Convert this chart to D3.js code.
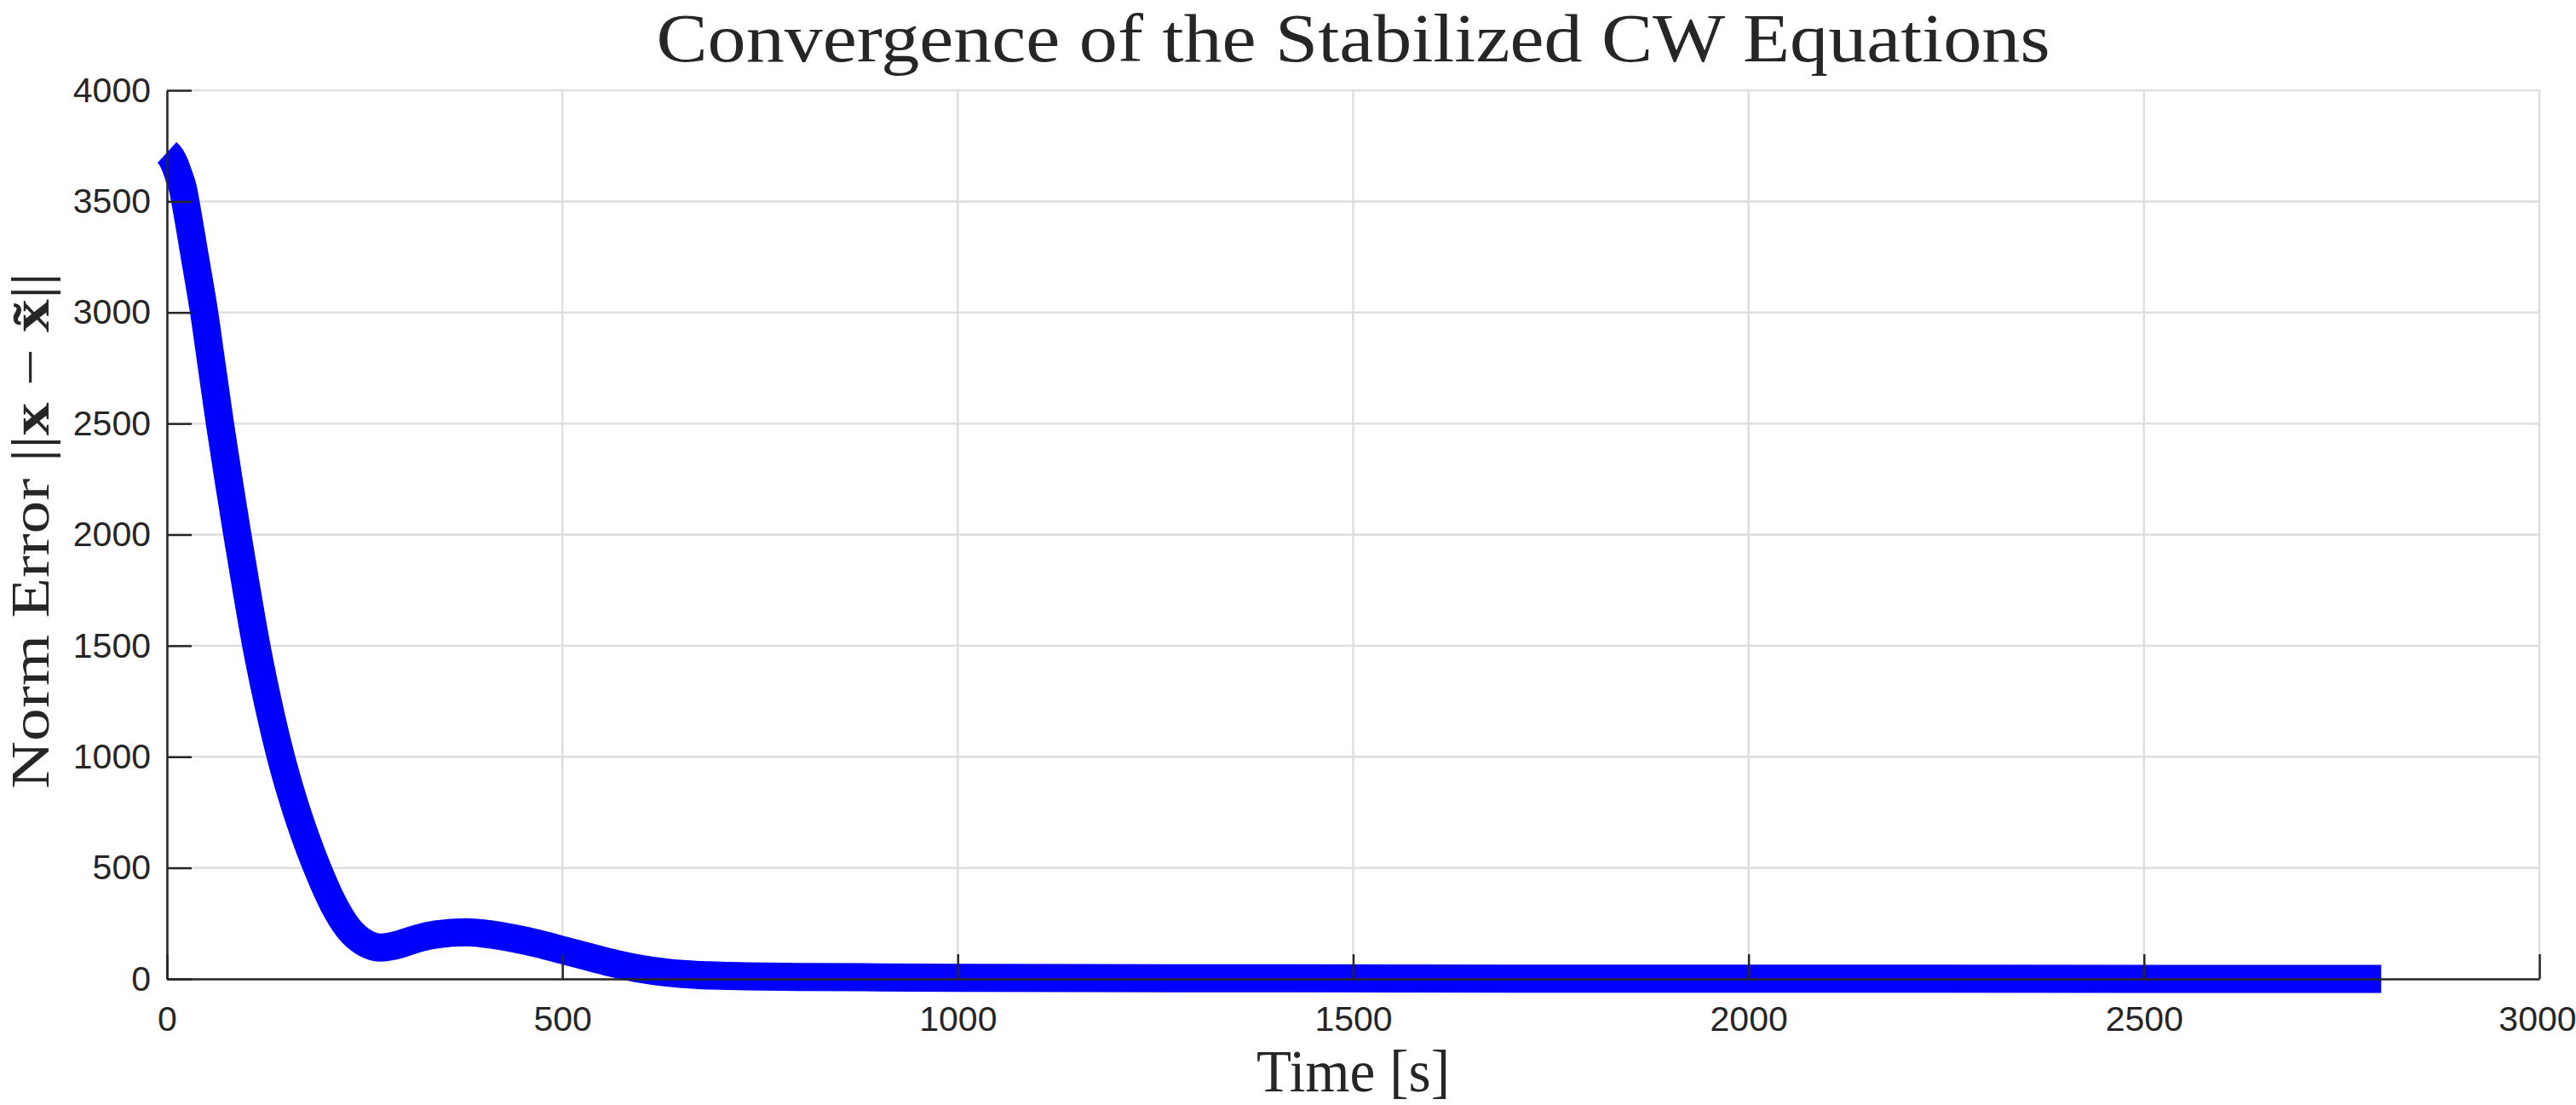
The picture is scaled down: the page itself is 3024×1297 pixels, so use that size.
<!DOCTYPE html>
<html>
<head>
<meta charset="utf-8">
<script src="https://cdn.jsdelivr.net/npm/d3@7"></script>
<style>
    body { margin: 0; background: #fff; }
    .tick text { font-family: 'Liberation Sans', Arial, sans-serif; font-size: 41px; fill: #262626; }
    .serif { font-family: 'Liberation Serif', 'Times New Roman', serif; fill: #262626; }
</style>
</head>
<body>
<div id="chart"></div>
<script>
// data
var time = [0, 5, 10, 15, 20, 25, 35, 47, 57, 67, 78, 89, 100, 113, 128, 144, 160, 175, 190, 210, 230, 250, 270,
    290, 315, 340, 378, 410, 435, 470, 500, 530, 556, 604, 652, 700, 800, 900, 1000, 1300, 1765, 2200, 2800];
var normError = [3720, 3700, 3665, 3615, 3560, 3465, 3255, 3000, 2750, 2500, 2245, 2000, 1765, 1500, 1240, 1000, 800, 640, 500, 340, 225, 163, 141,
    152, 180, 200, 210, 200, 185, 158, 130, 102, 78, 42, 22, 14, 9, 7, 5, 3, 1, 0.5, 0.3];
var xTicks = [0, 500, 1000, 1500, 2000, 2500, 3000];
var yTicks = [0, 500, 1000, 1500, 2000, 2500, 3000, 3500, 4000];

var titleText = 'Convergence of the Stabilized CW Equations';
var xLabelText = 'Time [s]';

// set the dimensions and margins of the graph
var W = 3024, H = 1297;
var margin = { top: 106, right: 43, bottom: 148, left: 196 },
    width = W - margin.left - margin.right,
    height = H - margin.top - margin.bottom;

var svg = d3
    .select('#chart')
    .append('svg')
    .attr('width', W)
    .attr('height', H);

var g = svg.append('g').attr('transform', 'translate(' + margin.left + ',' + margin.top + ')');

var x = d3.scaleLinear().domain([0, 3000]).range([0, width]);
var y = d3.scaleLinear().domain([0, 4000]).range([height, 0]);

// grid
g.append('g')
    .selectAll('line')
    .data(xTicks)
    .enter()
    .append('line')
    .attr('x1', d => x(d)).attr('x2', d => x(d))
    .attr('y1', 0).attr('y2', height)
    .attr('stroke', '#dedede')
    .attr('stroke-width', 2.5);
g.append('g')
    .selectAll('line')
    .data(yTicks)
    .enter()
    .append('line')
    .attr('x1', 0).attr('x2', width)
    .attr('y1', d => y(d)).attr('y2', d => y(d))
    .attr('stroke', '#dedede')
    .attr('stroke-width', 2.5);

// the line
var line = d3.line()
    .x((d, i) => x(time[i]))
    .y(d => y(d))
    .curve(d3.curveMonotoneX);

g.append('path')
    .datum(normError)
    .attr('d', line)
    .attr('fill', 'none')
    .attr('stroke', '#0000ff')
    .attr('stroke-width', 33)
    .attr('stroke-linejoin', 'round')
    .attr('stroke-linecap', 'butt');

// axes
var fmt = d3.format('d');
var xAxis = g.append('g')
    .attr('transform', 'translate(0,' + height + ')')
    .call(d3.axisBottom(x).tickValues(xTicks).tickFormat(fmt).tickSize(-29).tickPadding(32).tickSizeOuter(0));
var yAxis = g.append('g')
    .call(d3.axisLeft(y).tickValues(yTicks).tickFormat(fmt).tickSize(-29).tickPadding(19).tickSizeOuter(0));

[xAxis, yAxis].forEach(function(a) {
    a.select('.domain').attr('stroke', '#262626').attr('stroke-width', 2.5);
    a.selectAll('.tick line').attr('stroke', '#262626').attr('stroke-width', 2.5);
    a.attr('font-family', null).attr('font-size', null);
});

// last x label sits right at the edge, keep it inside
xAxis.selectAll('.tick:last-of-type text').attr('text-anchor', 'end').attr('dx', '1.05em');

// title and labels
svg.append('text')
    .attr('class', 'serif')
    .attr('x', margin.left + width / 2)
    .attr('y', 72)
    .attr('text-anchor', 'middle')
    .attr('font-size', 80)
    .attr('fill', '#000')
    .attr('textLength', 1636)
    .attr('lengthAdjust', 'spacingAndGlyphs')
    .text(titleText);

svg.append('text')
    .attr('class', 'serif')
    .attr('x', margin.left + width / 2)
    .attr('y', 1281)
    .attr('text-anchor', 'middle')
    .attr('font-size', 70)
    .attr('textLength', 227)
    .attr('lengthAdjust', 'spacingAndGlyphs')
    .text(xLabelText);

var yl = svg.append('text')
    .attr('class', 'serif')
    .attr('transform', 'translate(57,623) rotate(-90)')
    .attr('text-anchor', 'middle')
    .attr('font-size', 64)
    .attr('textLength', 606)
    .attr('lengthAdjust', 'spacingAndGlyphs');
yl.append('tspan').text('Norm Error ||');
yl.append('tspan').attr('font-weight', 'bold').text('x');
yl.append('tspan').text(' \u2212 ');
yl.append('tspan').attr('font-weight', 'bold').text('x\u0303');
yl.append('tspan').text('||');
</script>
</body>
</html>
